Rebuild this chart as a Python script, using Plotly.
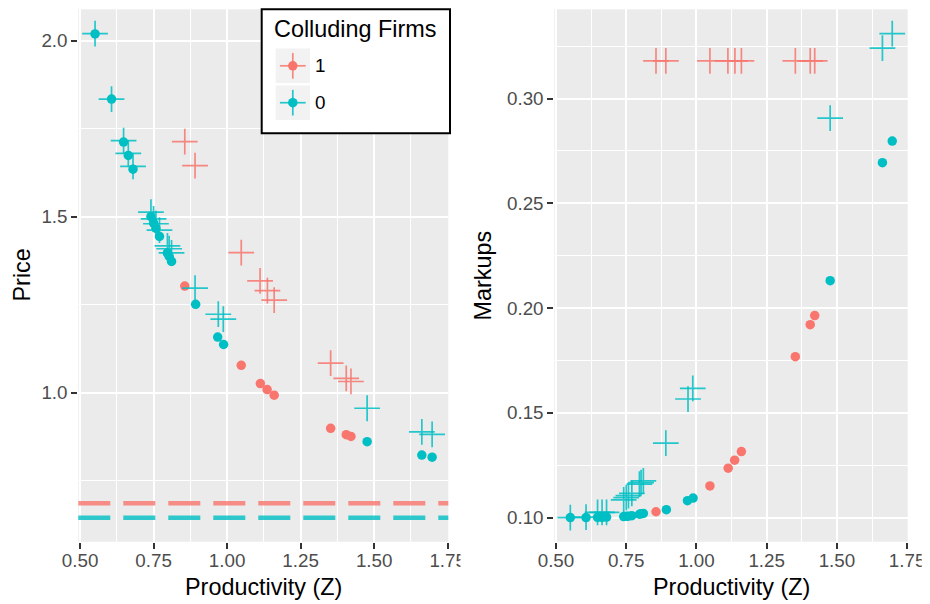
import plotly.graph_objects as go

# ---- data -------------------------------------------------------------
# Firms not in the cartel (group 0): filled dots
comp_z_dot = [0.551, 0.607, 0.648, 0.664, 0.680, 0.741, 0.750, 0.758, 0.770,
              0.797, 0.803, 0.811, 0.893, 0.968, 0.988, 1.476, 1.662, 1.697]
comp_price_dot = [2.019, 1.834, 1.712, 1.674, 1.635, 1.500, 1.482, 1.467, 1.444,
                  1.397, 1.387, 1.373, 1.251, 1.158, 1.137, 0.861, 0.823, 0.817]
comp_markup_dot = [0.1000, 0.1000, 0.1001, 0.1001, 0.1002, 0.1005, 0.1006, 0.1007, 0.1009,
                   0.1016, 0.1018, 0.1020, 0.1038, 0.1081, 0.1093, 0.2131, 0.2694, 0.2797]

# Colluding firms (group 1): filled dots
coll_z_dot = [0.856, 1.048, 1.113, 1.136, 1.160, 1.352, 1.405, 1.421]
coll_price_dot = [1.303, 1.078, 1.026, 1.009, 0.993, 0.899, 0.881, 0.876]
coll_markup_dot = [0.1028, 0.1151, 0.1236, 0.1274, 0.1315, 0.1768, 0.1921, 0.1964]

# Group 0: crosses
comp_z_cross = [0.551, 0.607, 0.648, 0.664, 0.680, 0.741, 0.750, 0.758, 0.770,
                0.797, 0.803, 0.811, 0.891, 0.970, 0.987, 1.476, 1.662, 1.697]
comp_price_cross = [2.020, 1.834, 1.716, 1.680, 1.643, 1.513, 1.494, 1.480, 1.462,
                    1.417, 1.409, 1.397, 1.297, 1.223, 1.209, 0.956, 0.889, 0.882]
comp_markup_cross = [0.1000, 0.1002, 0.1025, 0.1025, 0.1025, 0.1085, 0.1095, 0.1105, 0.1116,
                     0.1160, 0.1167, 0.1175, 0.1355, 0.1566, 0.1617, 0.2907, 0.3241, 0.3310]

# Group 1: crosses
coll_z_cross = [0.856, 0.891, 1.048, 1.112, 1.137, 1.160, 1.352, 1.405, 1.421]
coll_price_cross = [1.713, 1.645, 1.398, 1.318, 1.290, 1.263, 1.084, 1.041, 1.032]
coll_markup_cross = [0.318, 0.318, 0.318, 0.318, 0.318, 0.318, 0.318, 0.318, 0.318]

# Reference price levels (dashed lines), group 1 then group 0
ref_price = [0.686, 0.645]

x_ticks = [0.50, 0.75, 1.00, 1.25, 1.50, 1.75]
price_ticks = [1.0, 1.5, 2.0]
markup_ticks = [0.10, 0.15, 0.20, 0.25, 0.30]

legend_labels = ["1", "0"]

# ---- styling ----------------------------------------------------------
W, H = 930, 604
RED = "#F8766D"
CYAN = "#00BFC4"
FONT = "Liberation Sans, Arial, sans-serif"
TICK_SIZE = 18.8
TITLE_SIZE = 23.4
DOT_SIZE = 9.5
CROSS_SIZE = 18.4
CROSS_W = 1.7
CROSS_ALPHA = 0.85


def fx(px):
    return px / W


def fy(py):
    return 1 - py / H


fig = go.Figure()


def add_points(x, y, color, xa, ya, cross):
    if cross:
        marker = dict(symbol="cross-thin-open", size=CROSS_SIZE, color=color,
                      line=dict(width=CROSS_W, color=color), opacity=CROSS_ALPHA)
    else:
        marker = dict(symbol="circle", size=DOT_SIZE, color=color, line=dict(width=0))
    fig.add_trace(go.Scatter(x=x, y=y, mode="markers", marker=marker,
                             xaxis=xa, yaxis=ya, showlegend=False, hoverinfo="x+y"))


# Price panel
add_points(coll_z_dot, coll_price_dot, RED, "x", "y", False)
add_points(comp_z_dot, comp_price_dot, CYAN, "x", "y", False)
add_points(coll_z_cross, coll_price_cross, RED, "x", "y", True)
add_points(comp_z_cross, comp_price_cross, CYAN, "x", "y", True)

# Markup panel
add_points(coll_z_dot, coll_markup_dot, RED, "x2", "y2", False)
add_points(comp_z_dot, comp_markup_dot, CYAN, "x2", "y2", False)
add_points(coll_z_cross, coll_markup_cross, RED, "x2", "y2", True)
add_points(comp_z_cross, comp_markup_cross, CYAN, "x2", "y2", True)


def axis(rng, tickvals, fmt, minor_dtick, domain, anchor, standoff=0):
    return dict(
        range=rng, domain=domain, anchor=anchor, automargin=False,
        tickmode="array", tickvals=tickvals, tickformat=fmt,
        showgrid=True, gridcolor="white", gridwidth=2,
        minor=dict(dtick=minor_dtick, tick0=tickvals[0], showgrid=True,
                   gridcolor="white", gridwidth=1, ticks=""),
        zeroline=False, showline=False,
        ticks="outside", ticklen=6, tickwidth=2, tickcolor="#333333",
        ticklabelstandoff=standoff,
        tickfont=dict(family=FONT, size=TICK_SIZE, color="#4D4D4D"),
        fixedrange=True,
    )


ydom = [fy(541.7), fy(9.3)]
x_rng = [0.494, 1.752]

layout = dict(
    width=W, height=H,
    margin=dict(l=0, r=0, t=0, b=0, pad=0, autoexpand=False),
    paper_bgcolor="white", plot_bgcolor="#EBEBEB",
    font=dict(family=FONT, color="black"),
    showlegend=False,
    xaxis=axis(x_rng, x_ticks, ".2f", 0.125, [fx(78.3), fx(448.3)], "y", -4),
    yaxis=axis([0.577, 2.089], price_ticks, ".1f", 0.25, ydom, "x"),
    xaxis2=axis(x_rng, x_ticks, ".2f", 0.125, [fx(554.3), fx(907.7)], "y2", -4),
    yaxis2=axis([0.0885, 0.3426], markup_ticks, ".2f", 0.025, ydom, "x2"),
)
fig.update_layout(**layout)

shapes = []
# dashed reference price lines across the price panel
for val, col in zip(ref_price, [RED, CYAN]):
    shapes.append(dict(type="line", xref="x domain", yref="y", x0=0, x1=1,
                       y0=val, y1=val, layer="above", opacity=0.8,
                       line=dict(color=col, width=4.5, dash="32px,13px")))

# each panel is cut off at its own right edge (clips the last tick label)
for left, right in [(460.5, 472), (921.7, 930)]:
    shapes.append(dict(type="rect", xref="paper", yref="paper", layer="above",
                       x0=fx(left), x1=fx(right), y0=fy(575), y1=fy(546),
                       fillcolor="white", line=dict(width=0)))

# legend box
shapes.append(dict(type="rect", xref="paper", yref="paper", layer="above",
                   x0=fx(261.7), x1=fx(450), y0=fy(133.3), y1=fy(9.3),
                   fillcolor="white", line=dict(color="black", width=2)))

key_cy = [65.8, 102.7]
key_cx = 292.8
for cy, col in zip(key_cy, [RED, CYAN]):
    shapes.append(dict(type="rect", xref="paper", yref="paper", layer="above",
                       x0=fx(275.7), x1=fx(310.0), y0=fy(cy + 17.2), y1=fy(cy - 17.2),
                       fillcolor="#F2F2F2", line=dict(width=0)))
    r = DOT_SIZE / 2
    shapes.append(dict(type="circle", xref="paper", yref="paper", layer="above",
                       x0=fx(key_cx - r), x1=fx(key_cx + r), y0=fy(cy + r), y1=fy(cy - r),
                       fillcolor=col, line=dict(width=0)))
    arm = CROSS_SIZE * 0.7
    shapes.append(dict(type="line", xref="paper", yref="paper", layer="above",
                       x0=fx(key_cx - arm), x1=fx(key_cx + arm), y0=fy(cy), y1=fy(cy),
                       opacity=CROSS_ALPHA, line=dict(color=col, width=CROSS_W)))
    shapes.append(dict(type="line", xref="paper", yref="paper", layer="above",
                       x0=fx(key_cx), x1=fx(key_cx), y0=fy(cy - arm), y1=fy(cy + arm),
                       opacity=CROSS_ALPHA, line=dict(color=col, width=CROSS_W)))

fig.update_layout(shapes=shapes)

annotations = [
    dict(text="Colluding Firms", x=fx(272), y=fy(29.5), xanchor="left", yanchor="middle",
         font=dict(size=TITLE_SIZE, color="black")),
    dict(text="Price", x=fx(21), y=fy(275.5), textangle=-90, xanchor="center", yanchor="middle",
         font=dict(size=TITLE_SIZE, color="black")),
    dict(text="Markups", x=fx(482), y=fy(275.5), textangle=-90, xanchor="center", yanchor="middle",
         font=dict(size=TITLE_SIZE, color="black")),
    dict(text="Productivity (Z)", x=fx(263.3), y=fy(587), xanchor="center", yanchor="middle",
         font=dict(size=TITLE_SIZE, color="black")),
    dict(text="Productivity (Z)", x=fx(731), y=fy(587), xanchor="center", yanchor="middle",
         font=dict(size=TITLE_SIZE, color="black")),
]
for lbl, cy in zip(legend_labels, key_cy):
    annotations.append(dict(text=lbl, x=fx(313), y=fy(cy), xanchor="left", yanchor="middle",
                            font=dict(size=TICK_SIZE, color="black")))
for a in annotations:
    a.update(xref="paper", yref="paper", showarrow=False)
fig.update_layout(annotations=annotations)

fig.write_html("out.html", config={"displayModeBar": False})
